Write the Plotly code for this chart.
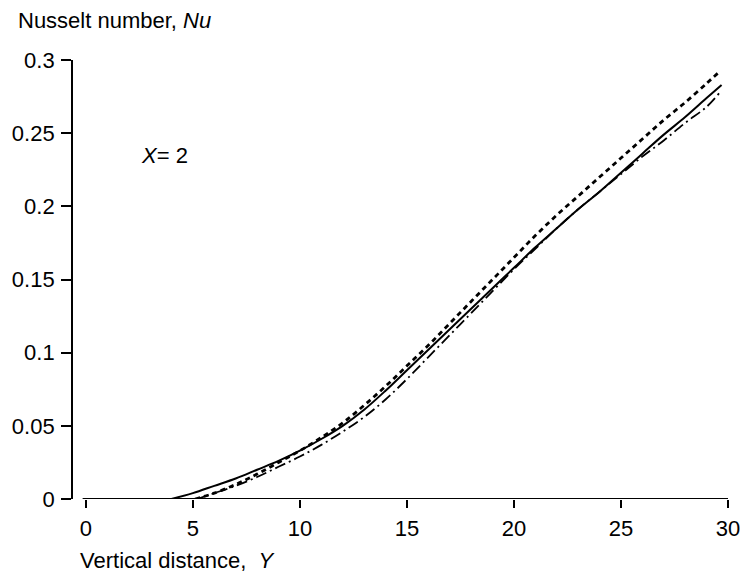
import plotly.graph_objects as go

# Solid curve
solid_x = [4.0, 5, 6, 7, 8, 9, 10, 11, 12, 13, 14, 15, 16, 17, 18, 19, 20, 21, 22, 23, 24, 25, 26, 27, 28, 29, 29.7]
solid_y = [0.0, 0.004, 0.009, 0.014, 0.020, 0.026, 0.033, 0.041, 0.050, 0.061, 0.074, 0.088, 0.102, 0.116, 0.130, 0.144, 0.158, 0.172, 0.185, 0.198, 0.210, 0.223, 0.236, 0.249, 0.261, 0.274, 0.283]

# Short-dashed curve
dash_x = [5.1, 6, 7, 8, 9, 10, 11, 12, 13, 14, 15, 16, 17, 18, 19, 20, 21, 22, 23, 24, 25, 26, 27, 28, 29, 29.6]
dash_y = [0.0, 0.004, 0.010, 0.017, 0.025, 0.033, 0.042, 0.052, 0.064, 0.077, 0.091, 0.105, 0.120, 0.135, 0.150, 0.165, 0.180, 0.194, 0.207, 0.220, 0.233, 0.246, 0.259, 0.271, 0.284, 0.292]

# Dash-dot curve
dd_x = [5.2, 6, 7, 8, 9, 10, 11, 12, 13, 14, 15, 16, 17, 18, 19, 20, 21, 22, 23, 24, 25, 26, 27, 28, 29, 29.6]
dd_y = [0.0, 0.004, 0.009, 0.015, 0.022, 0.029, 0.037, 0.046, 0.056, 0.068, 0.082, 0.097, 0.112, 0.127, 0.142, 0.157, 0.171, 0.185, 0.198, 0.210, 0.222, 0.234, 0.245, 0.257, 0.268, 0.2775]

x_ticks = [0, 5, 10, 15, 20, 25, 30]
x_ticktext = ["0", "5", "10", "15", "20", "25", "30"]
y_ticks = [0, 0.05, 0.1, 0.15, 0.2, 0.25, 0.3]
y_ticktext = ["0", "0.05", "0.1", "0.15", "0.2", "0.25", "0.3"]

FONT = "Liberation Sans, Arial, Helvetica, sans-serif"
FS = 22

fig = go.Figure()
fig.add_trace(go.Scatter(x=solid_x, y=solid_y, mode="lines", line=dict(color="black", width=2, shape="spline"), showlegend=False))
fig.add_trace(go.Scatter(x=dash_x, y=dash_y, mode="lines", line=dict(color="black", width=2.8, dash="5px,4px", shape="spline"), showlegend=False))
fig.add_trace(go.Scatter(x=dd_x, y=dd_y, mode="lines", line=dict(color="black", width=1.8, dash="11px,4px,2px,4px", shape="spline"), showlegend=False))

fig.update_layout(
    width=752, height=575,
    margin=dict(l=68, r=16, t=60, b=76),
    paper_bgcolor="white", plot_bgcolor="white",
    font=dict(family=FONT, size=FS, color="black"),
    xaxis=dict(range=[-0.6, 30], tickvals=x_ticks, ticktext=x_ticktext,
               showgrid=False, zeroline=False, showline=False,
               ticks="outside", ticklen=8, tickwidth=1.5, tickcolor="black",
               ticklabelstandoff=2),
    yaxis=dict(range=[0, 0.3], tickvals=y_ticks, ticktext=y_ticktext,
               showgrid=False, zeroline=False, showline=True, linecolor="black", linewidth=1.8,
               ticks="outside", ticklen=10, tickwidth=1.5, tickcolor="black",
               ticklabelstandoff=2),
    shapes=[dict(type="line", xref="x", yref="y", x0=-0.15, x1=30, y0=0, y1=0,
                 line=dict(color="black", width=1.8))],
    annotations=[
        dict(text="Nusselt number, <i>Nu</i>", xref="paper", yref="paper",
             x=(10 - 68) / 668, y=(499 - 20) / 439, xanchor="left", yanchor="middle",
             showarrow=False, font=dict(size=FS)),
        dict(text="Vertical distance,  <i>Y</i>", xref="paper", yref="paper",
             x=(73 - 68) / 668, y=(499 - 560) / 439, xanchor="left", yanchor="middle",
             showarrow=False, font=dict(size=FS)),
        dict(text="<i>X</i>= 2", xref="x", yref="y", x=3.67, y=0.235,
             xanchor="center", yanchor="middle", showarrow=False, font=dict(size=FS)),
    ],
)

fig.write_html("out.html", config={"displayModeBar": False},
               post_script="document.body.style.margin='0';document.body.style.overflow='hidden';")
